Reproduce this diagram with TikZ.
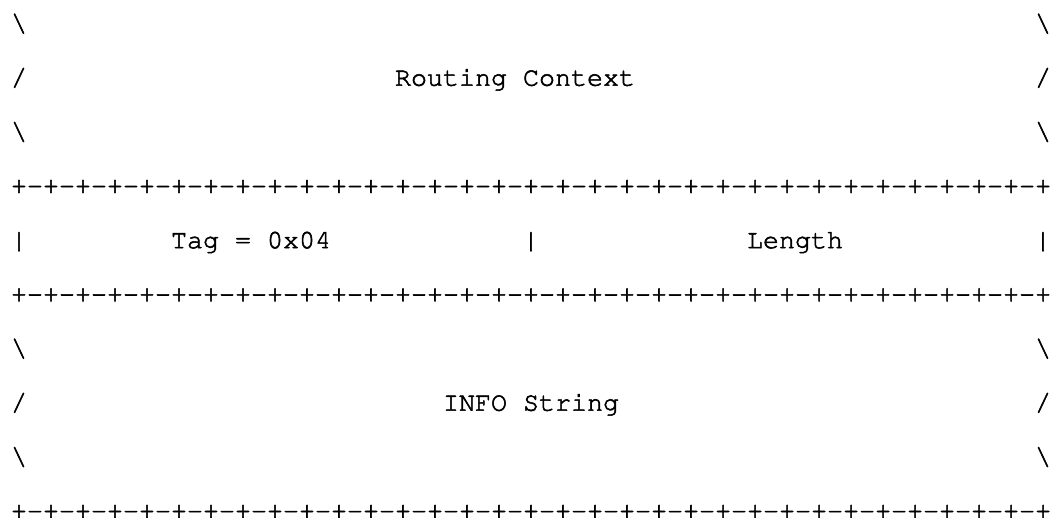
\documentclass[tikz,border=0pt]{standalone}
\usepackage[T1]{fontenc}
\def\dashrow{+-+-+-+-+-+-+-+-+-+-+-+-+-+-+-+-+-+-+-+-+-+-+-+-+-+-+-+-+-+-+-+-+}
\newcommand\heavy[1]{\special{pdf:literal direct 2 Tr 0.55 w}#1\special{pdf:literal direct 0 Tr}}
\begin{document}
\begin{tikzpicture}[x=1pt,y=1pt,
  txt/.style={anchor=base west,inner sep=0pt,outer sep=0pt,text=black,
    font=\fontencoding{T1}\fontfamily{pcr}\fontsize{26.67}{26.67}\selectfont}]
\useasboundingbox (0,0) rectangle (1050,-517);
% row 0
\node[txt] (r0l) at ({11+16*0},-31.5) {\heavy{\textbackslash}};
\node[txt] (r0r) at ({11+16*64},-31.5) {\heavy{\textbackslash}};
% row 1
\node[txt] (r1l) at ({11+16*0},-85.7) {\heavy{/}};
\node[txt] (rc)  at ({11+16*24},-85.7) {\heavy{Routing Context}};
\node[txt] (r1r) at ({11+16*64},-85.7) {\heavy{/}};
% row 2
\node[txt] (r2l) at ({11+16*0},-139.8) {\heavy{\textbackslash}};
\node[txt] (r2r) at ({11+16*64},-139.8) {\heavy{\textbackslash}};
% row 3
\node[txt] (b1) at (11,-194.0) {\heavy{\dashrow}};
% row 4
\node[txt] (r4a) at ({11+16*0},-248.2) {\heavy{|}};
\node[txt] (tag) at ({11+16*10},-248.2) {\heavy{Tag = 0x04}};
\node[txt] (r4b) at ({11+16*32},-248.2) {\heavy{|}};
\node[txt] (len) at ({11+16*46},-248.2) {\heavy{Length}};
\node[txt] (r4c) at ({11+16*64},-248.2) {\heavy{|}};
% row 5
\node[txt] (b2) at (11,-302.4) {\heavy{\dashrow}};
% row 6
\node[txt] (r6l) at ({11+16*0},-356.5) {\heavy{\textbackslash}};
\node[txt] (r6r) at ({11+16*64},-356.5) {\heavy{\textbackslash}};
% row 7
\node[txt] (r7l) at ({11+16*0},-410.7) {\heavy{/}};
\node[txt] (info) at ({11+16*27},-410.7) {\heavy{INFO String}};
\node[txt] (r7r) at ({11+16*64},-410.7) {\heavy{/}};
% row 8
\node[txt] (r8l) at ({11+16*0},-464.9) {\heavy{\textbackslash}};
\node[txt] (r8r) at ({11+16*64},-464.9) {\heavy{\textbackslash}};
% row 9
\node[txt] (b3) at (11,-519.0) {\heavy{\dashrow}};
\end{tikzpicture}
\end{document}
